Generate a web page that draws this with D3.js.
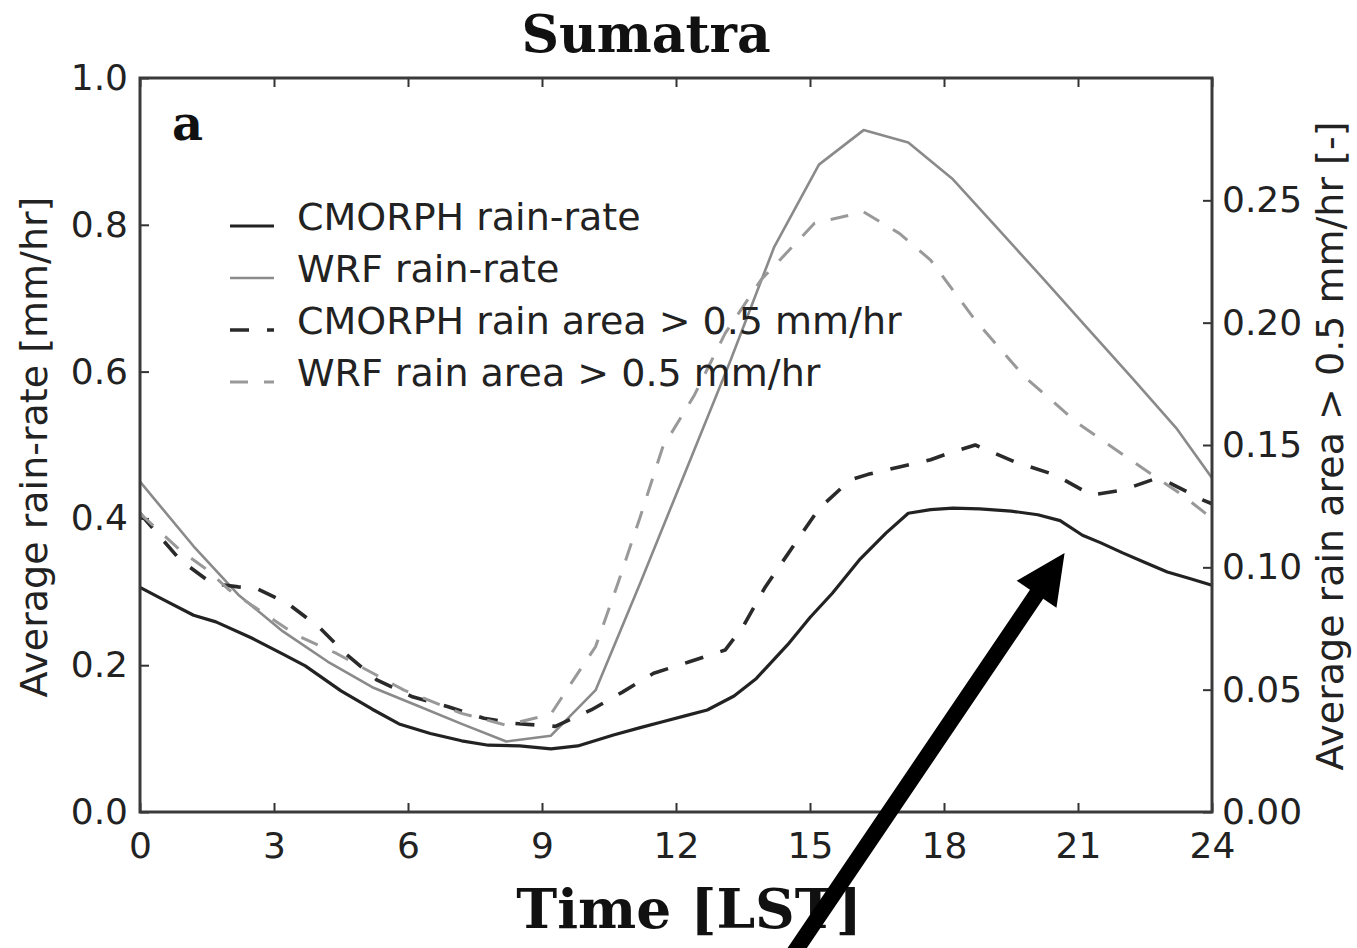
<!DOCTYPE html>
<html>
<head>
<meta charset="utf-8">
<script src="https://cdn.jsdelivr.net/npm/d3@7"></script>
<style>
  html, body { margin: 0; padding: 0; background: #ffffff; }
  svg { display: block; }
</style>
</head>
<body>
<svg id="chart" width="1357" height="948"></svg>
<script>
// ---- Diurnal cycle over Sumatra: hours in local solar time ----

// CMORPH average rain-rate [mm/hr] (left axis)
const cmorphRateHours = [0, 0.5, 1.2, 1.7, 2.5, 3.2, 3.7, 4.5, 5.2, 5.8, 6.5, 7.2, 7.8, 8.5, 9.2, 9.8,
  10.6, 11.2, 11.7, 12.2, 12.7, 13.3, 13.8, 14.5, 15.0, 15.5, 16.1, 16.7, 17.2, 17.7, 18.2, 18.8,
  19.5, 20.1, 20.6, 21.1, 21.5, 22.0, 22.5, 23.0, 23.5, 24];
const cmorphRate = [0.306, 0.290, 0.268, 0.259, 0.237, 0.215, 0.199, 0.165, 0.140, 0.120, 0.107, 0.097,
  0.091, 0.090, 0.086, 0.090, 0.105, 0.115, 0.123, 0.131, 0.139, 0.158, 0.182, 0.228, 0.265, 0.298,
  0.343, 0.380, 0.407, 0.412, 0.414, 0.413, 0.410, 0.405, 0.397, 0.377, 0.367, 0.353, 0.340, 0.327,
  0.318, 0.309];

// WRF average rain-rate [mm/hr] (left axis)
const wrfRateHours = [0, 1.2, 2.2, 3.2, 4.2, 5.2, 6.2, 7.2, 8.2, 9.2, 10.2, 11.2, 12.2, 13.2, 14.2,
  15.2, 16.2, 17.2, 18.2, 19.2, 20.2, 21.2, 22.2, 23.2, 24];
const wrfRate = [0.450, 0.362, 0.296, 0.246, 0.205, 0.170, 0.145, 0.120, 0.096, 0.104, 0.166, 0.312,
  0.462, 0.612, 0.770, 0.882, 0.929, 0.912, 0.862, 0.795, 0.728, 0.660, 0.592, 0.523, 0.455];

// CMORPH fraction of area with rain > 0.5 mm/hr (right axis)
const cmorphAreaHours = [0, 0.9, 1.6, 2.2, 2.6, 3.3, 4.0, 4.6, 5.3, 6.1, 6.9, 7.7, 8.4, 9.3, 10.1,
  10.8, 11.5, 12.3, 13.1, 13.5, 14.0, 14.6, 15.2, 15.9, 16.3, 17.0, 17.7, 18.1, 18.7, 19.6, 20.5,
  21.3, 22.0, 22.7, 23.0, 23.8, 24];
const cmorphArea = [0.122, 0.103, 0.0935, 0.092, 0.0914, 0.0853, 0.0757, 0.0648, 0.054, 0.0471, 0.043,
  0.0383, 0.0362, 0.035, 0.0417, 0.049, 0.0567, 0.0614, 0.0662, 0.0757, 0.092, 0.108, 0.124, 0.1357,
  0.138, 0.141, 0.144, 0.1466, 0.150, 0.143, 0.1377, 0.1295, 0.1316, 0.136, 0.135, 0.1275, 0.126];

// WRF fraction of area with rain > 0.5 mm/hr (right axis)
const wrfAreaHours = [0, 0.9, 1.5, 2.0, 3.5, 4.4, 5.9, 7.2, 8.2, 9.2, 9.6, 10.2, 10.7, 11.2, 11.7,
  12.4, 13.1, 13.9, 15.1, 16.2, 17.0, 17.7, 18.7, 19.8, 21.0, 22.4, 23.3, 24];
const wrfArea = [0.122, 0.107, 0.099, 0.0907, 0.0723, 0.0648, 0.0499, 0.0403, 0.0355, 0.040, 0.0512,
  0.0676, 0.0935, 0.1207, 0.149, 0.170, 0.1956, 0.2174, 0.2406, 0.2453, 0.2365, 0.2256, 0.201, 0.1779,
  0.1588, 0.1411, 0.130, 0.120];

// Tick values
const hourTicks = [0, 3, 6, 9, 12, 15, 18, 21, 24];
const rateTicks = [0.0, 0.2, 0.4, 0.6, 0.8, 1.0];
const areaTicks = [0.00, 0.05, 0.10, 0.15, 0.20, 0.25];

// Series labels
const seriesNames = ["CMORPH rain-rate", "WRF rain-rate",
  "CMORPH rain area > 0.5 mm/hr", "WRF rain area > 0.5 mm/hr"];

// Annotation arrow (hour, rain-rate) from tail to tip
const arrowTail = { t: 14.55, v: -0.2 };
const arrowTip = { t: 20.7, v: 0.353 };

// ---- layout ----
const svg = d3.select("#chart");
const plotL = 140, plotR = 1212, plotT = 78, plotB = 812;
const x = d3.scaleLinear().domain([0, 24]).range([plotL, plotR]);
const yL = d3.scaleLinear().domain([0, 1]).range([plotB, plotT]);
const yR = d3.scaleLinear().domain([0, 0.3]).range([plotB, plotT]);

const sans = "'DejaVu Sans', Verdana, sans-serif";
const serif = "'DejaVu Serif', Georgia, serif";
const tickFont = 36;
const labelFont = 38;

const zip = (ts, vs) => ts.map((t, i) => ({ t, v: vs[i] }));

const styles = [
  { data: zip(cmorphRateHours, cmorphRate), y: yL, color: "#222222", width: 3.2, dash: null },
  { data: zip(wrfRateHours, wrfRate), y: yL, color: "#8a8a8a", width: 2.6, dash: null },
  { data: zip(cmorphAreaHours, cmorphArea), y: yR, color: "#2a2a2a", width: 3.6, dash: "19 18" },
  { data: zip(wrfAreaHours, wrfArea), y: yR, color: "#999999", width: 3.0, dash: "18 16" }
];

// ---- axes ----
function styleAxis(g) {
  g.select(".domain").remove();
  g.selectAll(".tick line").attr("stroke", "#333").attr("stroke-width", 2);
  g.selectAll(".tick text").attr("fill", "#222")
    .style("font-family", sans).style("font-size", tickFont + "px");
}

svg.append("g").attr("transform", `translate(0,${plotB})`)
  .call(d3.axisBottom(x).tickValues(hourTicks).tickFormat(d3.format("d"))
    .tickSize(-9).tickPadding(20))
  .call(styleAxis);

svg.append("g").attr("transform", `translate(0,${plotT})`)
  .call(d3.axisTop(x).tickValues(hourTicks).tickFormat("").tickSize(-9))
  .call(styleAxis);

svg.append("g").attr("transform", `translate(${plotL},0)`)
  .call(d3.axisLeft(yL).tickValues(rateTicks).tickFormat(d3.format(".1f"))
    .tickSize(-9).tickPadding(12))
  .call(styleAxis);

svg.append("g").attr("transform", `translate(${plotR},0)`)
  .call(d3.axisRight(yR).tickValues(areaTicks).tickFormat(d3.format(".2f"))
    .tickSize(-9).tickPadding(10))
  .call(styleAxis);

// ---- series ----
const lines = svg.append("g").attr("fill", "none")
  .attr("stroke-linejoin", "round");
styles.forEach(s => {
  const gen = d3.line().x(d => x(d.t)).y(d => s.y(d.v));
  lines.append("path")
    .attr("d", gen(s.data))
    .attr("stroke", s.color)
    .attr("stroke-width", s.width)
    .attr("stroke-dasharray", s.dash);
});

// plot frame
svg.append("rect")
  .attr("x", plotL).attr("y", plotT)
  .attr("width", plotR - plotL).attr("height", plotB - plotT)
  .attr("fill", "none").attr("stroke", "#3a3a3a").attr("stroke-width", 3);

// ---- legend ----
const legend = svg.append("g").attr("transform", "translate(230,226)");
styles.forEach((s, i) => {
  const row = legend.append("g").attr("transform", `translate(0,${i * 52})`);
  row.append("line")
    .attr("x1", 0).attr("x2", 44).attr("y1", 0).attr("y2", 0)
    .attr("stroke", s.color).attr("stroke-width", s.width)
    .attr("stroke-dasharray", s.dash);
  row.append("text")
    .attr("x", 67).attr("y", 4)
    .attr("fill", "#222")
    .style("font-family", sans).style("font-size", labelFont + "px")
    .text(seriesNames[i]);
});

// ---- titles and labels ----
svg.append("text")
  .attr("x", 646).attr("y", 52).attr("text-anchor", "middle")
  .style("font-family", serif).style("font-weight", "bold").style("font-size", "52px")
  .attr("fill", "#111").text("Sumatra");

svg.append("text")
  .attr("x", 172).attr("y", 140)
  .style("font-family", serif).style("font-weight", "bold").style("font-size", "48px")
  .attr("fill", "#111").text("a");

svg.append("text")
  .attr("x", 689).attr("y", 928).attr("text-anchor", "middle")
  .style("font-family", serif).style("font-weight", "bold").style("font-size", "55px")
  .attr("fill", "#111").text("Time [LST]");

svg.append("text")
  .attr("transform", "translate(47,447) rotate(-90)")
  .attr("text-anchor", "middle")
  .style("font-family", sans).style("font-size", labelFont + "px")
  .attr("fill", "#222").text("Average rain-rate [mm/hr]");

svg.append("text")
  .attr("transform", "translate(1343,446) rotate(-90)")
  .attr("text-anchor", "middle")
  .style("font-family", sans).style("font-size", labelFont + "px")
  .attr("fill", "#222").text("Average rain area > 0.5 mm/hr [-]");

// ---- annotation arrow ----
(function drawArrow() {
  const x0 = x(arrowTail.t), y0 = yL(arrowTail.v);
  const x1 = x(arrowTip.t), y1 = yL(arrowTip.v);
  const dx = x1 - x0, dy = y1 - y0, len = Math.hypot(dx, dy);
  const ux = dx / len, uy = dy / len;       // direction toward tip
  const px = -uy, py = ux;                  // perpendicular
  const headLen = 50, headHalf = 24, shaftHalf = 8;
  const bx = x1 - ux * headLen, by = y1 - uy * headLen;
  const pts = [
    [x0 + px * shaftHalf, y0 + py * shaftHalf],
    [bx + px * shaftHalf, by + py * shaftHalf],
    [bx + px * headHalf, by + py * headHalf],
    [x1, y1],
    [bx - px * headHalf, by - py * headHalf],
    [bx - px * shaftHalf, by - py * shaftHalf],
    [x0 - px * shaftHalf, y0 - py * shaftHalf]
  ];
  svg.append("path")
    .attr("d", "M" + pts.map(p => p.join(",")).join("L") + "Z")
    .attr("fill", "#000");
})();
</script>
</body>
</html>
